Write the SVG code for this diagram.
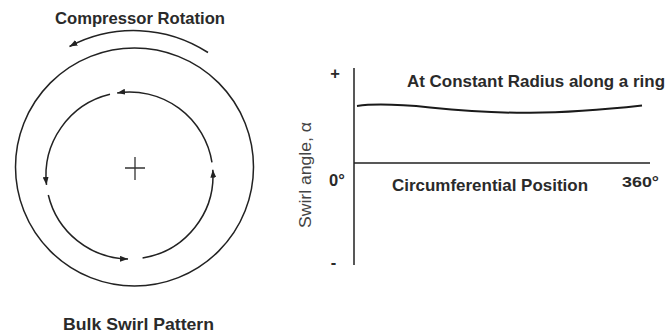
<svg xmlns="http://www.w3.org/2000/svg" width="667" height="336" viewBox="0 0 667 336">
<style>
.ln{fill:none;stroke:#222;stroke-width:1.5}
.txt{font-family:"Liberation Sans",Arial,sans-serif;font-weight:bold;font-size:16.5px;fill:#2a2a2a}
.reg{font-family:"Liberation Sans",Arial,sans-serif;font-size:16px;fill:#444}
</style>
<defs>
<marker id="ah" viewBox="0 0 8 6" refX="8" refY="3" markerWidth="8" markerHeight="6" markerUnits="userSpaceOnUse" orient="auto">
<path d="M0,0 L8,3 L0,6 z" fill="#222"/>
</marker>
</defs>
<rect width="667" height="336" fill="#fff"/>
<g id="wheel">
<text class="txt" x="140" y="24" text-anchor="middle" textLength="170" lengthAdjust="spacingAndGlyphs">Compressor Rotation</text>
<circle class="ln" cx="134.5" cy="167" r="119"/>
<path d="M135,157 V180 M125,168 H145" fill="none" stroke="#333" stroke-width="1.3"/>
<text class="txt" x="138.5" y="330" text-anchor="middle" textLength="151" lengthAdjust="spacingAndGlyphs">Bulk Swirl Pattern</text>
</g>
<g id="connectors">
<path class="ln" d="M208,52.5 A137,137 0 0 0 69.5,46.5" marker-end="url(#ah)"/>
<path class="ln" d="M211.97,162.44 A83.5,83.5 0 0 0 117.16,92.92" marker-end="url(#ah)"/>
<path class="ln" d="M110.01,94.3 A83.5,83.5 0 0 0 46.53,184.95" marker-end="url(#ah)"/>
<path class="ln" d="M48.3,194.99 A83.5,83.5 0 0 0 128.04,258.99" marker-end="url(#ah)"/>
<path class="ln" d="M142.56,257.97 A83.5,83.5 0 0 0 212.8,169.68" marker-end="url(#ah)"/>
</g>
<g id="chart">
<path class="ln" d="M354,68 V265 M354,163 H650"/>
<path d="M357,106 C375,103.5 395,104 430,107.5 S500,113 530,112.8 S610,109 642,105.5" fill="none" stroke="#1a1a1a" stroke-width="2"/>
<text class="txt" x="407" y="87" textLength="258" lengthAdjust="spacingAndGlyphs">At Constant Radius along a ring</text>
<text class="txt" x="392" y="190.5" textLength="196" lengthAdjust="spacingAndGlyphs">Circumferential Position</text>
<text class="txt" x="329" y="186">0°</text>
<text class="txt" x="622" y="187" style="font-size:15px" textLength="37" lengthAdjust="spacingAndGlyphs">360°</text>
<text class="txt" x="335" y="79" text-anchor="middle">+</text>
<text class="txt" x="333.5" y="268" text-anchor="middle">-</text>
<text class="reg" transform="translate(311,175) rotate(-90)" text-anchor="middle" textLength="106" lengthAdjust="spacingAndGlyphs">Swirl angle, α</text>
</g>
</svg>
